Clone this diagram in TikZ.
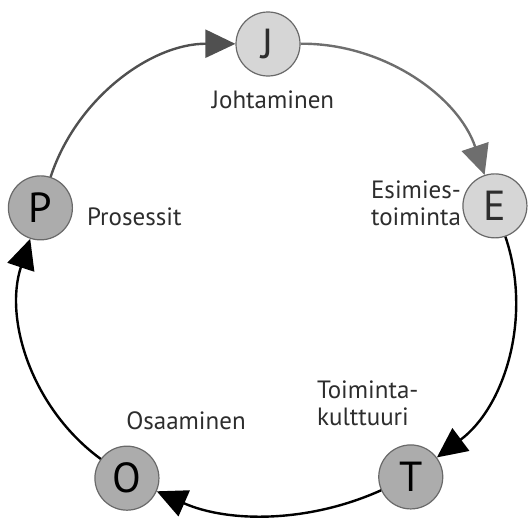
\documentclass[tikz,border=0pt]{standalone}
\usepackage{fontspec}
\setmainfont{PT Sans}
\usetikzlibrary{arrows.meta,calc}
\definecolor{ringgray}{RGB}{80,80,80}
\definecolor{headgray}{RGB}{110,110,110}
\definecolor{ballpale}{RGB}{214,214,214}
\definecolor{balldark}{RGB}{172,172,172}
\definecolor{balledge}{RGB}{105,105,105}
\definecolor{inkgray}{RGB}{45,45,45}

\begin{document}
\begin{tikzpicture}[x=0.5pt,y=0.5pt,font=\fontsize{12.5}{13.5}\selectfont,
    ball/.style={circle,draw=balledge,line width=0.6pt,minimum size=32pt,
                 inner sep=0pt,font=\fontsize{21}{21}\selectfont},
    flow/.style={line width=1.2pt,-{Triangle[length=15pt,width=14pt]}},
    lab/.style={text=inkgray}]
  \useasboundingbox (0,0) rectangle (528,521);
  \coordinate (c) at (268,237);
  % the five stations on the ring
  \node[ball,fill=ballpale,text=inkgray] (J) at ($(c)+(90:240)$) {J};
  \node[ball,fill=ballpale,text=inkgray] (E) at ($(c)+(19:240)$) {E};
  \node[ball,fill=balldark] (T) at ($(c)+(-53.5:240)$) {T};
  \node[ball,fill=balldark] (O) at ($(c)+(-126:240)$) {O};
  \node[ball,fill=balldark] (P) at ($(c)+(161.5:240)$) {P};
  % ring, clockwise
  \draw[flow,ringgray] (P) to[bend left=36,looseness=0.94] (J);
  \draw[flow,headgray] (J) to[bend left=36,looseness=0.94] (E);
  \draw[flow,black] (E) to[bend left=36,looseness=0.94] (T);
  \draw[flow,black] (T) to[bend left=24,looseness=0.9] (O);
  \draw[flow,black] (O) to[bend left=36,looseness=0.94] (P);
  % labels
  \node[lab] (jlab) at (273,421) {Johtaminen};
  \node[lab,anchor=east,align=right] (elab) at (468,318) {Esimies-\\toiminta};
  \node[lab,anchor=west] (plab) at (80,304) {Prosessit};
  \node[lab,anchor=west,align=left] (tlab) at (310,118) {Toiminta-\\kulttuuri};
  \node[lab] (olab) at (186,100) {Osaaminen};
\end{tikzpicture}
\end{document}
